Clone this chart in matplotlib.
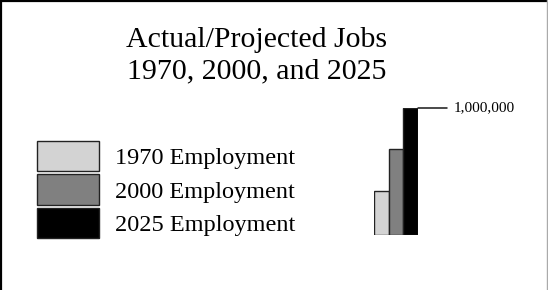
import matplotlib
matplotlib.use("Agg")
import matplotlib.pyplot as plt
from matplotlib.lines import Line2D

plt.rcParams['font.family'] = ['Liberation Serif', 'DejaVu Serif']

years = ["1970", "2000", "2025"]
jobs = [345000, 675000, 1000000]
labels = ["1970 Employment", "2000 Employment", "2025 Employment"]
colors = ["#d3d3d3", "#808080", "#000000"]
peak_label = "1,000,000"

W, H = 548, 290
fig = plt.figure(figsize=(W / 100, H / 100), dpi=100)

# frame: dark left/top, grey right, nothing at the bottom
fig.add_artist(Line2D([1 / W, 1 / W], [0, 1], color="black", lw=1.6,
                      transform=fig.transFigure))
fig.add_artist(Line2D([0, 1], [1 - 1 / H, 1 - 1 / H], color="black", lw=1.6,
                      transform=fig.transFigure))
fig.add_artist(Line2D([1 - 1 / W, 1 - 1 / W], [0, 1], color="#aaaaaa", lw=1,
                      transform=fig.transFigure))

fig.text(257 / W, 1 - 47 / H, "Actual/Projected Jobs", ha="center",
         va="baseline", fontsize=21.5)
fig.text(257 / W, 1 - 78 / H, "1970, 2000, and 2025", ha="center",
         va="baseline", fontsize=21.5)

ax = fig.add_axes([374 / W, (H - 235) / H, 44 / W, 127 / H])
bars = ax.bar(range(len(jobs)), jobs, width=1.0, color=colors,
              edgecolor="#222222", linewidth=1)
ax.set_xlim(-0.5, 2.5)
ax.set_ylim(0, max(jobs))
ax.axis("off")

ax.annotate(peak_label, xy=(2.5, max(jobs)), xytext=(36, 0),
            textcoords="offset pixels", va="center", ha="left", fontsize=11,
            arrowprops=dict(arrowstyle="-", color="black", lw=1,
                            shrinkA=3, shrinkB=0))

leg = fig.legend(bars, labels, loc="upper left",
                 bbox_to_anchor=(37 / W, 1 - 141 / H), frameon=False,
                 fontsize=17.5, handlelength=2.55, handleheight=1.55,
                 handletextpad=0.65, labelspacing=0.12, borderpad=0,
                 borderaxespad=0)

fig.savefig("out.png", dpi=100)
